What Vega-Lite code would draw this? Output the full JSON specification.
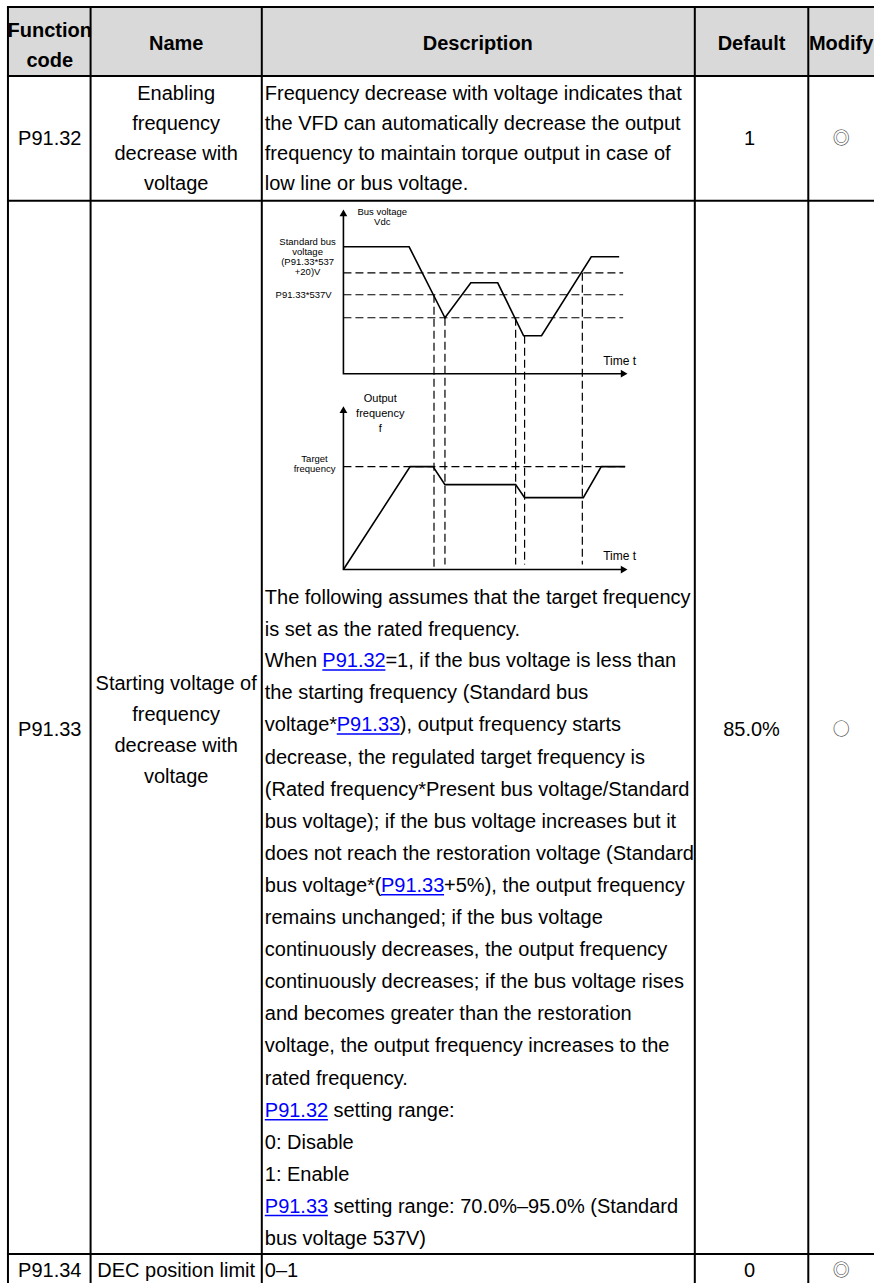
{
  "$schema": "https://vega.github.io/schema/vega-lite/v6.json",
  "width": 876,
  "height": 1284,
  "padding": 0,
  "autosize": {"type": "fit", "contains": "padding"},
  "background": "white",
  "config": {"view": {"stroke": null}, "font": "Liberation Sans"},
  "datasets": {
    "bg": [{"x": 8, "x2": 878, "y": 7, "y2": 76}],
    "grid": [
      {"x": 7, "x2": 878, "y": 7, "y2": 7},
      {"x": 7, "x2": 878, "y": 76, "y2": 76},
      {"x": 7, "x2": 878, "y": 201, "y2": 201},
      {"x": 7, "x2": 878, "y": 1255, "y2": 1255},
      {"x": 8, "x2": 8, "y": 7, "y2": 1284},
      {"x": 91, "x2": 91, "y": 7, "y2": 1284},
      {"x": 263, "x2": 263, "y": 7, "y2": 1284},
      {"x": 698, "x2": 698, "y": 7, "y2": 1284},
      {"x": 812, "x2": 812, "y": 7, "y2": 1284}
    ],
    "head": [
      {"x": 50, "y": 31, "t": "Function"},
      {"x": 50, "y": 61, "t": "code"},
      {"x": 177, "y": 44, "t": "Name"},
      {"x": 480, "y": 44, "t": "Description"},
      {"x": 755, "y": 44, "t": "Default"},
      {"x": 845, "y": 44, "t": "Modify"}
    ],
    "ctext": [
      {"x": 50, "y": 139, "t": "P91.32"},
      {"x": 177, "y": 94, "t": "Enabling"},
      {"x": 177, "y": 124, "t": "frequency"},
      {"x": 177, "y": 154, "t": "decrease with"},
      {"x": 177, "y": 184, "t": "voltage"},
      {"x": 753, "y": 139, "t": "1"},
      {"x": 50, "y": 731, "t": "P91.33"},
      {"x": 177, "y": 685, "t": "Starting voltage of"},
      {"x": 177, "y": 716, "t": "frequency"},
      {"x": 177, "y": 747, "t": "decrease with"},
      {"x": 177, "y": 778, "t": "voltage"},
      {"x": 755, "y": 731, "t": "85.0%"},
      {"x": 50, "y": 1272, "t": "P91.34"},
      {"x": 177, "y": 1272, "t": "DEC position limit"},
      {"x": 753, "y": 1272, "t": "0"}
    ],
    "sym": [
      {"x": 845, "y": 139, "t": "◎"},
      {"x": 845, "y": 731, "t": "○"},
      {"x": 845, "y": 1272, "t": "◎"}
    ],
    "ltext": [
      {"x": 266, "y": 94, "t": "Frequency decrease with voltage indicates that"},
      {"x": 266, "y": 124, "t": "the VFD can automatically decrease the output"},
      {"x": 266, "y": 154, "t": "frequency to maintain torque output in case of"},
      {"x": 266, "y": 184, "t": "low line or bus voltage."},
      {"x": 266, "y": 598, "t": "The following assumes that the target frequency"},
      {"x": 266, "y": 630, "t": "is set as the rated frequency."},
      {"x": 266, "y": 662, "t": "When"},
      {"x": 387.2, "y": 662, "t": "=1, if the bus voltage is less than"},
      {"x": 266, "y": 694, "t": "the starting frequency (Standard bus"},
      {"x": 266, "y": 726, "t": "voltage*"},
      {"x": 401.7, "y": 726, "t": "), output frequency starts"},
      {"x": 266, "y": 759, "t": "decrease, the regulated target frequency is"},
      {"x": 266, "y": 791, "t": "(Rated frequency*Present bus voltage/Standard"},
      {"x": 266, "y": 823, "t": "bus voltage); if the bus voltage increases but it"},
      {"x": 266, "y": 855, "t": "does not reach the restoration voltage (Standard"},
      {"x": 266, "y": 887, "t": "bus voltage*("},
      {"x": 446.1, "y": 887, "t": "+5%), the output frequency"},
      {"x": 266, "y": 919, "t": "remains unchanged; if the bus voltage"},
      {"x": 266, "y": 951, "t": "continuously decreases, the output frequency"},
      {"x": 266, "y": 983, "t": "continuously decreases; if the bus voltage rises"},
      {"x": 266, "y": 1015, "t": "and becomes greater than the restoration"},
      {"x": 266, "y": 1047, "t": "voltage, the output frequency increases to the"},
      {"x": 266, "y": 1080, "t": "rated frequency."},
      {"x": 335, "y": 1112, "t": "setting range:"},
      {"x": 266, "y": 1144, "t": "0: Disable"},
      {"x": 266, "y": 1176, "t": "1: Enable"},
      {"x": 335, "y": 1208, "t": "setting range: 70.0%–95.0% (Standard"},
      {"x": 266, "y": 1240, "t": "bus voltage 537V)"},
      {"x": 266, "y": 1272, "t": "0–1"}
    ],
    "link": [
      {"x": 323.8, "y": 662, "t": "P91.32"},
      {"x": 338.3, "y": 726, "t": "P91.33"},
      {"x": 382.7, "y": 887, "t": "P91.33"},
      {"x": 266, "y": 1112, "t": "P91.32"},
      {"x": 266, "y": 1208, "t": "P91.33"}
    ],
    "uline": [
      {"x": 323.8, "x2": 387.2, "y": 670.5, "y2": 670.5},
      {"x": 338.3, "x2": 401.7, "y": 734.5, "y2": 734.5},
      {"x": 382.7, "x2": 446.1, "y": 895.5, "y2": 895.5},
      {"x": 266, "x2": 329.4, "y": 1120.5, "y2": 1120.5},
      {"x": 266, "x2": 329.4, "y": 1216.5, "y2": 1216.5}
    ],
    "path": [
      {"g": "ay1", "i": 0, "x": 345, "y": 216},
      {"g": "ay1", "i": 1, "x": 345, "y": 374},
      {"g": "ay1", "i": 2, "x": 624, "y": 374},
      {"g": "ay2", "i": 0, "x": 345, "y": 413},
      {"g": "ay2", "i": 1, "x": 345, "y": 570},
      {"g": "ay2", "i": 2, "x": 624, "y": 570},
      {"g": "bus", "i": 0, "x": 345, "y": 247},
      {"g": "bus", "i": 1, "x": 411, "y": 247},
      {"g": "bus", "i": 2, "x": 447, "y": 318},
      {"g": "bus", "i": 3, "x": 473, "y": 283},
      {"g": "bus", "i": 4, "x": 500, "y": 283},
      {"g": "bus", "i": 5, "x": 526, "y": 336},
      {"g": "bus", "i": 6, "x": 544, "y": 336},
      {"g": "bus", "i": 7, "x": 594, "y": 257},
      {"g": "bus", "i": 8, "x": 622, "y": 257},
      {"g": "frq", "i": 0, "x": 345, "y": 570},
      {"g": "frq", "i": 1, "x": 412, "y": 467},
      {"g": "frq", "i": 2, "x": 435, "y": 467},
      {"g": "frq", "i": 3, "x": 447, "y": 485},
      {"g": "frq", "i": 4, "x": 518, "y": 485},
      {"g": "frq", "i": 5, "x": 527, "y": 498},
      {"g": "frq", "i": 6, "x": 586, "y": 498},
      {"g": "frq", "i": 7, "x": 604, "y": 467},
      {"g": "frq", "i": 8, "x": 628, "y": 467}
    ],
    "dash": [
      {"x": 345, "x2": 626, "y": 273, "y2": 273},
      {"x": 345, "x2": 626, "y": 295, "y2": 295},
      {"x": 345, "x2": 626, "y": 318, "y2": 318},
      {"x": 345, "x2": 628, "y": 467, "y2": 467},
      {"x": 436, "x2": 436, "y": 295, "y2": 570},
      {"x": 447, "x2": 447, "y": 318, "y2": 565},
      {"x": 518, "x2": 518, "y": 318, "y2": 565},
      {"x": 527, "x2": 527, "y": 336, "y2": 565},
      {"x": 585, "x2": 585, "y": 273, "y2": 565}
    ],
    "arrU": [{"x": 345, "y": 213}, {"x": 345, "y": 410}],
    "arrR": [{"x": 627, "y": 374}, {"x": 627, "y": 570}],
    "lab10": [
      {"x": 384, "y": 212, "t": "Bus voltage"},
      {"x": 384, "y": 222, "t": "Vdc"},
      {"x": 309, "y": 242, "t": "Standard bus"},
      {"x": 309, "y": 252, "t": "voltage"},
      {"x": 309, "y": 262, "t": "(P91.33*537"},
      {"x": 309, "y": 272, "t": "+20)V"},
      {"x": 305, "y": 295, "t": "P91.33*537V"},
      {"x": 316, "y": 459, "t": "Target"},
      {"x": 316, "y": 469, "t": "frequency"}
    ],
    "lab11": [
      {"x": 382, "y": 399, "t": "Output"},
      {"x": 382, "y": 414, "t": "frequency"},
      {"x": 382, "y": 429, "t": "f"}
    ],
    "timet": [
      {"x": 606, "y": 361, "t": "Time t"},
      {"x": 606, "y": 556, "t": "Time t"}
    ]
  },
  "encoding": {
    "x": {"field": "x", "type": "quantitative", "scale": {"domain": [0, 876], "nice": false, "zero": false}, "axis": null},
    "y": {"field": "y", "type": "quantitative", "scale": {"domain": [0, 1284], "nice": false, "zero": false, "reverse": true}, "axis": null}
  },
  "layer": [
    {"data": {"name": "bg"}, "mark": {"type": "rect", "color": "#d9d9d9"}, "encoding": {"x2": {"field": "x2"}, "y2": {"field": "y2"}}},
    {"data": {"name": "grid"}, "mark": {"type": "rule", "color": "#000000", "strokeWidth": 2}, "encoding": {"x2": {"field": "x2"}, "y2": {"field": "y2"}}},
    {"data": {"name": "head"}, "mark": {"type": "text", "font": "Liberation Sans", "fontSize": 20, "fontWeight": "bold", "align": "center", "baseline": "middle", "color": "#000000"}, "encoding": {"text": {"field": "t"}}},
    {"data": {"name": "ctext"}, "mark": {"type": "text", "font": "Liberation Sans", "fontSize": 20, "align": "center", "baseline": "middle", "color": "#000000"}, "encoding": {"text": {"field": "t"}}},
    {"data": {"name": "sym"}, "mark": {"type": "text", "font": "Noto Sans CJK SC", "fontSize": 17, "align": "center", "baseline": "middle", "color": "#444444"}, "encoding": {"text": {"field": "t"}}},
    {"data": {"name": "ltext"}, "mark": {"type": "text", "font": "Liberation Sans", "fontSize": 20, "align": "left", "baseline": "middle", "color": "#000000"}, "encoding": {"text": {"field": "t"}}},
    {"data": {"name": "link"}, "mark": {"type": "text", "font": "Liberation Sans", "fontSize": 20, "align": "left", "baseline": "middle", "color": "#0000ff"}, "encoding": {"text": {"field": "t"}}},
    {"data": {"name": "uline"}, "mark": {"type": "rule", "color": "#0000ff", "strokeWidth": 1.5}, "encoding": {"x2": {"field": "x2"}, "y2": {"field": "y2"}}},
    {"data": {"name": "dash"}, "mark": {"type": "rule", "color": "#000000", "strokeWidth": 1.2, "strokeDash": [8, 4]}, "encoding": {"x2": {"field": "x2"}, "y2": {"field": "y2"}}},
    {"data": {"name": "path"}, "mark": {"type": "line", "color": "#000000", "strokeWidth": 1.6}, "encoding": {"detail": {"field": "g", "type": "nominal"}, "order": {"field": "i", "type": "quantitative"}}},
    {"data": {"name": "arrU"}, "mark": {"type": "point", "shape": "triangle-up", "filled": true, "color": "#000000", "size": 60, "opacity": 1}, "encoding": {}},
    {"data": {"name": "arrR"}, "mark": {"type": "point", "shape": "triangle-right", "filled": true, "color": "#000000", "size": 60, "opacity": 1}, "encoding": {}},
    {"data": {"name": "lab10"}, "mark": {"type": "text", "font": "Liberation Sans", "fontSize": 9.5, "align": "center", "baseline": "middle", "color": "#000000"}, "encoding": {"text": {"field": "t"}}},
    {"data": {"name": "lab11"}, "mark": {"type": "text", "font": "Liberation Sans", "fontSize": 11, "align": "center", "baseline": "middle", "color": "#000000"}, "encoding": {"text": {"field": "t"}}},
    {"data": {"name": "timet"}, "mark": {"type": "text", "font": "Liberation Sans", "fontSize": 12, "align": "left", "baseline": "middle", "color": "#000000"}, "encoding": {"text": {"field": "t"}}}
  ]
}
